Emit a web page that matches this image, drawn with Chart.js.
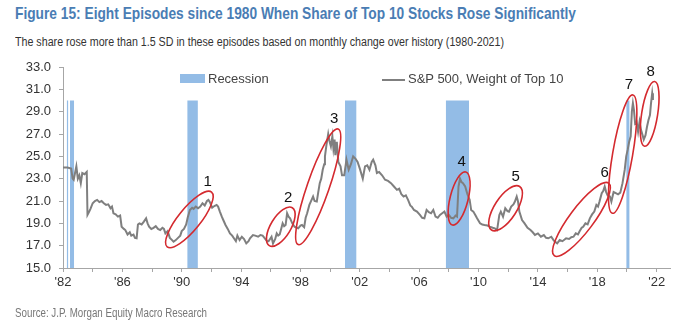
<!DOCTYPE html>
<html>
<head>
<meta charset="utf-8">
<script src="https://cdn.jsdelivr.net/npm/chart.js@4.4.1/dist/chart.umd.min.js"></script>
<style>
  html, body { margin: 0; padding: 0; background: #fff; }
  body { width: 697px; height: 328px; position: relative; overflow: hidden;
         font-family: "Liberation Sans", Arial, sans-serif; }
  #chart { position: absolute; left: 0; top: 0; }
  .txt { position: absolute; white-space: nowrap; transform-origin: 0 50%; }
  #title { left: 15px; top: 4px; font-size: 17px; font-weight: bold; color: #4a7db4; }
  #subtitle { left: 15px; top: 35px; font-size: 12px; color: #333; }
  #source { left: 15px; top: 306px; font-size: 12px; color: #777; }
  .legend { position: absolute; top: 71px; font-size: 13px; color: #444; }
  .legend .swatch { position: absolute; left: 0; }
  .legend span.label { position: absolute; white-space: nowrap; top: 0; }
</style>
</head>
<body>
<div id="title" class="txt" data-w="561">Figure 15: Eight Episodes since 1980 When Share of Top 10 Stocks Rose Significantly</div>
<div id="subtitle" class="txt" data-w="489">The share rose more than 1.5 SD in these episodes based on monthly change over history (1980-2021)</div>
<canvas id="chart" width="697" height="328"></canvas>
<div class="legend" style="left:180px">
  <div class="swatch" style="top:3px;width:25px;height:9px;background:#93bce6"></div>
  <span class="label" style="left:28px">Recession</span>
</div>
<div class="legend" style="left:382px">
  <div class="swatch" style="top:8px;width:23px;height:2px;background:#7f7f7f"></div>
  <span class="label" style="left:26px">S&amp;P 500, Weight of Top 10</span>
</div>
<div id="source" class="txt" data-w="192">Source: J.P. Morgan Equity Macro Research</div>

<script>
// S&P 500 weight of the top 10 stocks (%), by decimal year
const years = [
  1982.00, 1982.30, 1982.55, 1982.65, 1982.72, 1982.90, 1983.00, 1983.10, 1983.20, 1983.30,
  1983.45, 1983.60, 1983.65, 1983.75, 1983.85, 1984.00, 1984.15, 1984.30, 1984.45, 1984.60,
  1984.75, 1984.90, 1985.05, 1985.20, 1985.30, 1985.40, 1985.55, 1985.70, 1985.85, 1985.95,
  1986.10, 1986.20, 1986.35, 1986.50, 1986.60, 1986.75, 1986.85, 1986.96, 1987.05, 1987.15,
  1987.30, 1987.45, 1987.60, 1987.70, 1987.80, 1987.95, 1988.10, 1988.25, 1988.40, 1988.55,
  1988.70, 1988.80, 1988.90, 1989.05, 1989.20, 1989.35, 1989.45, 1989.60, 1989.75, 1989.90,
  1990.00, 1990.15, 1990.30, 1990.40, 1990.55, 1990.70, 1990.80, 1990.95, 1991.10, 1991.25,
  1991.40, 1991.55, 1991.70, 1991.80, 1991.90, 1992.05, 1992.20, 1992.35, 1992.45, 1992.57,
  1992.70, 1992.80, 1992.95, 1993.10, 1993.25, 1993.40, 1993.55, 1993.65, 1993.75, 1993.90,
  1994.05, 1994.20, 1994.35, 1994.50, 1994.60, 1994.80, 1994.95, 1995.15, 1995.30, 1995.45,
  1995.60, 1995.75, 1995.85, 1996.05, 1996.15, 1996.30, 1996.40, 1996.50, 1996.60, 1996.70,
  1996.80, 1996.90, 1997.00, 1997.10, 1997.20, 1997.30, 1997.45, 1997.60, 1997.75, 1997.85,
  1998.00, 1998.10, 1998.25, 1998.35, 1998.45, 1998.60, 1998.75, 1998.85, 1998.95, 1999.10,
  1999.20, 1999.30, 1999.40, 1999.50, 1999.60, 1999.65, 1999.75, 1999.87, 1999.95, 2000.05,
  2000.15, 2000.22, 2000.30, 2000.35, 2000.45, 2000.55, 2000.70, 2000.80, 2000.95, 2001.10,
  2001.25, 2001.40, 2001.55, 2001.70, 2001.85, 2002.00, 2002.20, 2002.35, 2002.50, 2002.65,
  2002.80, 2002.90, 2003.05, 2003.15, 2003.30, 2003.50, 2003.70, 2003.90, 2004.10, 2004.30,
  2004.50, 2004.65, 2004.80, 2004.95, 2005.10, 2005.25, 2005.40, 2005.50, 2005.65, 2005.85,
  2006.05, 2006.20, 2006.35, 2006.50, 2006.65, 2006.80, 2006.95, 2007.10, 2007.25, 2007.40,
  2007.55, 2007.70, 2007.85, 2008.00, 2008.15, 2008.30, 2008.45, 2008.55, 2008.65, 2008.75,
  2008.85, 2008.95, 2009.10, 2009.25, 2009.40, 2009.50, 2009.65, 2009.80, 2009.90, 2010.10,
  2010.25, 2010.40, 2010.60, 2010.75, 2010.95, 2011.10, 2011.25, 2011.40, 2011.50, 2011.65,
  2011.80, 2011.95, 2012.05, 2012.20, 2012.35, 2012.45, 2012.57, 2012.66, 2012.75, 2012.93,
  2013.10, 2013.30, 2013.50, 2013.65, 2013.80, 2014.00, 2014.20, 2014.40, 2014.55, 2014.70,
  2014.90, 2015.05, 2015.15, 2015.30, 2015.47, 2015.65, 2015.80, 2015.90, 2016.10, 2016.25,
  2016.40, 2016.55, 2016.70, 2016.80, 2016.95, 2017.05, 2017.20, 2017.35, 2017.50, 2017.65,
  2017.80, 2017.94, 2018.05, 2018.15, 2018.30, 2018.40, 2018.50, 2018.60, 2018.70, 2018.85,
  2018.95, 2019.10, 2019.25, 2019.40, 2019.55, 2019.70, 2019.85, 2019.95, 2020.05, 2020.15,
  2020.25, 2020.33, 2020.40, 2020.47, 2020.55, 2020.65, 2020.75, 2020.85, 2020.95, 2021.05,
  2021.13, 2021.25, 2021.35, 2021.45, 2021.55, 2021.62, 2021.70, 2021.75
];
const top10Weight = [
  24.0, 24.0, 23.9, 23.0, 22.9, 24.1, 23.0, 23.3, 22.6, 23.5,
  23.4, 23.6, 19.75, 20.0, 20.3, 20.8, 21.0, 21.1, 20.9, 21.0,
  20.8, 20.65, 20.7, 20.35, 20.5, 19.9, 19.8, 19.6, 19.7, 18.7,
  18.5, 18.4, 18.0, 18.2, 17.9, 18.0, 17.7, 17.66, 18.9, 19.0,
  18.9, 19.15, 19.45, 19.0, 18.7, 18.5, 18.6, 18.75, 18.5, 18.4,
  18.6, 18.5, 18.1, 18.3, 17.7, 17.5, 17.35, 17.5, 17.7, 17.9,
  18.3, 18.5, 18.9, 19.5, 20.2, 20.4, 20.3, 20.5, 20.35, 20.5,
  20.8, 20.6, 21.0, 21.1, 20.9, 20.4, 20.55, 20.65, 20.5, 20.05,
  19.6, 19.3, 18.85, 18.5, 18.1, 17.9, 17.6, 17.4, 17.9, 17.5,
  17.8, 17.6, 17.2, 17.4, 17.66, 17.95, 17.9, 17.8, 17.95, 17.9,
  17.66, 17.4, 17.4, 17.8, 17.2, 17.6, 18.1, 17.9, 18.0, 18.5,
  19.0, 18.75, 18.85, 19.9, 19.6, 19.45, 19.0, 18.7, 18.6, 18.55,
  18.8, 18.85, 18.65, 19.5, 19.9, 20.65, 21.1, 21.4, 21.0, 20.95,
  21.8, 22.6, 23.0, 23.8, 24.3, 25.0, 26.0, 27.0, 26.4, 25.9,
  26.8, 25.7, 26.5, 25.1, 26.3, 24.5, 24.1, 23.3, 23.3, 24.7,
  23.8, 24.3, 25.0, 24.8, 24.5, 23.9, 23.0, 24.1, 24.2, 23.8,
  24.5, 24.7, 24.2, 23.5, 23.6, 23.3, 22.9, 22.8, 22.6, 22.3,
  22.0, 22.1, 21.6, 21.4, 21.5, 21.1, 20.6, 20.5, 20.2, 20.05,
  19.75, 19.5, 19.45, 20.2, 20.0, 19.9, 20.2, 19.6, 19.5, 19.75,
  19.9, 20.05, 19.6, 19.75, 19.5, 19.45, 19.7, 19.6, 22.3, 23.0,
  22.7, 22.6, 22.3, 21.6, 21.1, 20.2, 20.05, 19.7, 19.45, 19.0,
  18.9, 18.85, 18.8, 18.7, 18.6, 18.55, 18.4, 19.75, 20.05, 19.6,
  20.35, 20.1, 20.05, 20.5, 20.7, 20.95, 21.4, 20.95, 20.05, 19.3,
  19.0, 18.6, 18.4, 18.2, 17.96, 18.1, 17.8, 17.95, 17.7, 17.66,
  17.8, 17.5, 17.36, 17.2, 17.5, 17.4, 17.55, 17.66, 17.6, 17.75,
  17.8, 18.1, 18.0, 18.26, 18.6, 18.7, 19.0, 18.9, 19.45, 19.8,
  20.05, 20.65, 20.5, 20.95, 21.7, 21.9, 22.3, 21.8, 21.5, 21.4,
  20.95, 21.8, 21.7, 21.6, 21.75, 22.6, 23.8, 25.0, 25.6, 26.3,
  26.8, 29.0, 29.75, 29.15, 27.95, 28.1, 27.2, 28.1, 27.35, 26.9,
  26.5, 26.9, 27.65, 28.25, 28.7, 29.75, 30.65, 30.05
];

// US recessions (start, end) and the bar height they are shaded to
const recessionStart = [1982.25, 1982.47, 1990.37, 2001.00, 2007.79, 2019.95];
const recessionEnd   = [1982.36, 1982.75, 1991.09, 2001.78, 2009.36, 2020.18];
const recessionTop = 30;

// the eight episodes: first and last point of each run-up (year, weight)
const episodeLabels = ['1', '2', '3', '4', '5', '6', '7', '8'];
const episodeFrom = [[1989.02, 16.9], [1995.90, 17.0], [1997.85, 17.1], [2008.24, 18.85],
                     [2010.87, 18.4], [2015.10, 16.1], [2019.02, 19.9], [2021.19, 25.9]];
const episodeTo   = [[1992.01, 21.8], [1997.45, 20.4], [2000.54, 27.45], [2009.14, 23.6],
                     [2012.77, 22.3], [2018.77, 22.6], [2020.40, 30.5], [2021.87, 31.7]];

// x tick every 2 years, labelled every 4
const xTickStart = 1982;
const yTicks = [15, 17, 19, 21, 23, 25, 27, 29, 31, 33];

const FONT = '"Liberation Sans", Arial, sans-serif';

// squeeze the narrow header/footer lines to the width they take up
document.querySelectorAll('.txt').forEach(el => {
  const w = el.getBoundingClientRect().width;
  el.style.transform = `scaleX(${el.dataset.w / w})`;
});

const recessionSets = recessionStart.map((s, i) => ({
  type: 'line',
  data: [{ x: s, y: recessionTop }, { x: recessionEnd[i], y: recessionTop }],
  borderWidth: 0,
  pointRadius: 0,
  backgroundColor: '#93bce6',
  fill: 'start',
  order: 2
}));

const episodeHalfWidth = [11, 10, 11, 9, 11, 12, 10, 8];

const episodeRings = {
  id: 'episodeRings',
  afterDatasetsDraw(chart) {
    const { ctx, scales: { x, y } } = chart;
    ctx.save();
    episodeFrom.forEach((p, i) => {
      const x1 = x.getPixelForValue(p[0]), y1 = y.getPixelForValue(p[1]);
      const x2 = x.getPixelForValue(episodeTo[i][0]), y2 = y.getPixelForValue(episodeTo[i][1]);
      const cx = (x1 + x2) / 2, cy = (y1 + y2) / 2;
      const a = Math.hypot(x2 - x1, y2 - y1) / 2;
      const ang = Math.atan2(y2 - y1, x2 - x1);
      ctx.beginPath();
      ctx.ellipse(cx, cy, a, episodeHalfWidth[i], ang, 0, Math.PI * 2);
      ctx.strokeStyle = '#d42a2f';
      ctx.lineWidth = 1.6;
      ctx.stroke();

      ctx.fillStyle = '#111';
      ctx.font = `15px ${FONT}`;
      ctx.textAlign = 'center';
      ctx.textBaseline = 'middle';
      ctx.fillText(episodeLabels[i], x2 - 4, y2 - 10);
    });
    ctx.restore();
  }
};

new Chart(document.getElementById('chart'), {
  type: 'line',
  data: {
    datasets: [
      {
        label: 'S&P 500, Weight of Top 10',
        data: years.map((yr, i) => ({ x: yr, y: top10Weight[i] })),
        borderColor: '#7f7f7f',
        borderWidth: 2,
        pointRadius: 0,
        tension: 0,
        fill: false,
        order: 1
      },
      ...recessionSets
    ]
  },
  options: {
    responsive: false,
    animation: false,
    events: [],
    layout: { padding: { left: 0, top: 67, right: 27, bottom: 0 } },
    plugins: { legend: { display: false }, tooltip: { enabled: false } },
    scales: {
      x: {
        type: 'linear',
        min: 1982,
        max: 2022.9,
        afterFit: s => { s.height = 60; },
        afterBuildTicks: s => {
          const t = [];
          for (let v = xTickStart; v <= 2022; v += 2) t.push({ value: v });
          s.ticks = t;
        },
        ticks: {
          autoSkip: false,
          maxRotation: 0,
          padding: 3,
          color: '#333',
          font: { family: FONT, size: 13 },
          callback: v => ((v - xTickStart) % 4 === 0 ? "'" + String(v).slice(2) : '')
        },
        grid: { drawOnChartArea: false, drawTicks: true, tickLength: 4, color: '#a6a6a6' },
        border: { color: '#a6a6a6' }
      },
      y: {
        min: 15,
        max: 33,
        afterFit: s => { s.width = 63; },
        afterBuildTicks: s => { s.ticks = yTicks.map(v => ({ value: v })); },
        ticks: {
          padding: 8,
          color: '#333',
          font: { family: FONT, size: 13 },
          callback: v => v.toFixed(1)
        },
        grid: { drawOnChartArea: false, drawTicks: true, tickLength: 4, color: '#a6a6a6' },
        border: { color: '#a6a6a6' }
      }
    }
  },
  plugins: [episodeRings]
});
</script>
</body>
</html>
